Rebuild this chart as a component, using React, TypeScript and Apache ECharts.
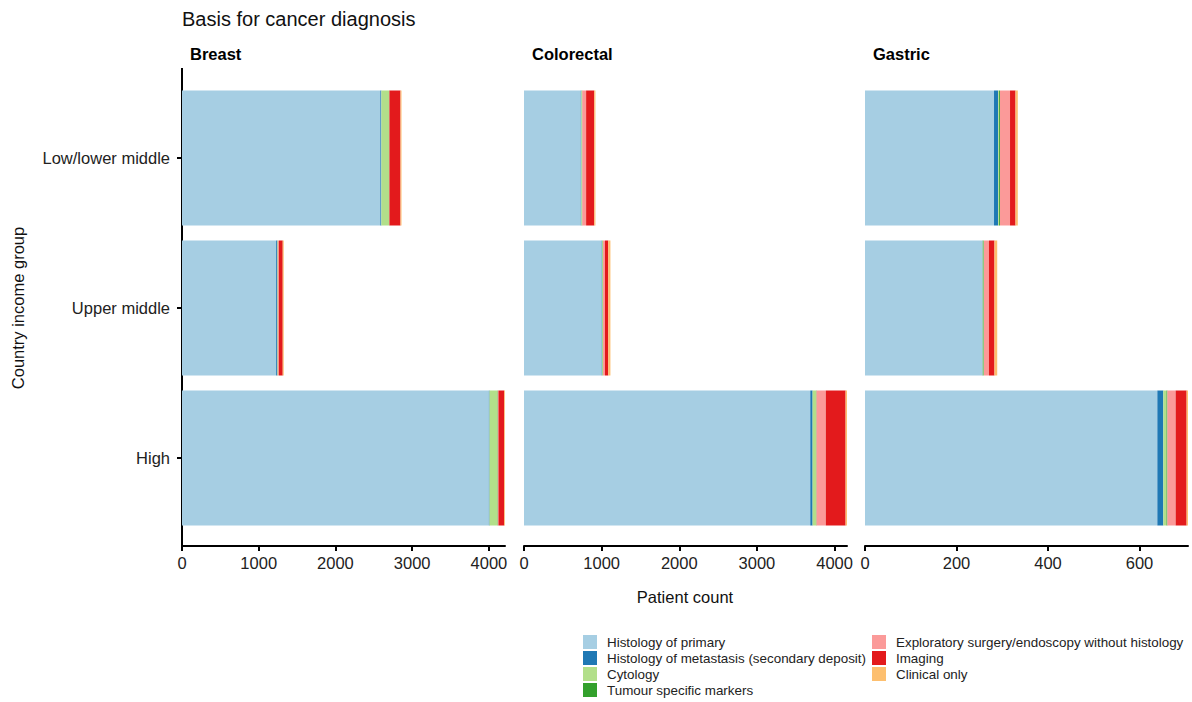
import React, { useEffect, useRef } from "react";
import * as echarts from "echarts";

const categories = ["Low/lower middle", "Upper middle", "High"];
const bases = [
  "Histology of primary",
  "Histology of metastasis (secondary deposit)",
  "Cytology",
  "Tumour specific markers",
  "Exploratory surgery/endoscopy without histology",
  "Imaging",
  "Clinical only",
];
const colors = ["#A6CEE3", "#1F78B4", "#B2DF8A", "#33A02C", "#FB9A99", "#E31A1C", "#FDBF6F"];

// rows follow `bases`, columns follow `categories`
const breastCounts = [
  [2585, 1227, 4000],
  [13, 13, 8],
  [100, 5, 105],
  [3, 3, 4],
  [3, 15, 8],
  [144, 50, 75],
  [13, 13, 10],
];
const colorectalCounts = [
  [731, 1001, 3687],
  [8, 4, 30],
  [8, 10, 45],
  [3, 3, 5],
  [50, 25, 120],
  [105, 42, 255],
  [15, 28, 18],
];
const gastricCounts = [
  [282, 256, 639],
  [9, 1, 13],
  [2, 2, 7],
  [2, 1, 2],
  [22, 11, 18],
  [12, 12, 24],
  [5, 6, 3],
];

const breastTicks = [0, 1000, 2000, 3000, 4000];
const colorectalTicks = [0, 1000, 2000, 3000, 4000];
const gastricTicks = [0, 200, 400, 600];

const panelNames = ["Breast", "Colorectal", "Gastric"];

const FONT = "Liberation Sans, Arial, Helvetica, sans-serif";

export default function App() {
  const ref = useRef<HTMLDivElement>(null);
  useEffect(() => {
    if (!ref.current) return;
    const chart = echarts.init(ref.current, undefined, { renderer: "svg" });
    const panels = [
      { counts: breastCounts, ticks: breastTicks, left: 182 },
      { counts: colorectalCounts, ticks: colorectalTicks, left: 524 },
      { counts: gastricCounts, ticks: gastricTicks, left: 865 },
    ];
    const top = 83;
    const height = 450;
    const width = 323;
    const grids = panels.map((p) => ({ left: p.left, top, width, height }));
    const xAxes = panels.map((p, i) => {
      const totals = categories.map((_, c) => p.counts.reduce((s, row) => s + row[c], 0));
      return {
        type: "value",
        gridIndex: i,
        min: 0,
        max: Math.max(...totals),
        offset: 13,
        splitLine: { show: false },
        axisLine: { show: true, lineStyle: { color: "#000", width: 2 } },
        axisTick: { show: true, length: 5, lineStyle: { color: "#000", width: 2 }, customValues: p.ticks },
        axisLabel: {
          customValues: p.ticks,
          formatter: (v: number) => String(v),
          color: "#222",
          fontSize: 16.5,
          fontFamily: FONT,
          margin: 8,
        },
      };
    });
    const yAxes = panels.map((_, i) => ({
      type: "category",
      gridIndex: i,
      data: categories,
      inverse: true,
      axisLine: { show: false },
      axisTick: {
        show: i === 0,
        alignWithLabel: true,
        length: 5,
        lineStyle: { color: "#000", width: 2 },
      },
      axisLabel: {
        show: i === 0,
        color: "#222",
        fontSize: 16.5,
        fontFamily: FONT,
        margin: 12,
      },
    }));
    const series: any[] = [];
    panels.forEach((p, i) => {
      bases.forEach((b, k) => {
        series.push({
          type: "bar",
          name: b,
          xAxisIndex: i,
          yAxisIndex: i,
          stack: "s" + i,
          barWidth: "90%",
          itemStyle: { color: colors[k] },
          data: p.counts[k],
        });
      });
    });
    const legendCommon = {
      orient: "vertical",
      top: 635,
      height: 66,
      padding: 0,
      icon: "rect",
      itemWidth: 14,
      itemHeight: 14,
      itemGap: 2,
      selectedMode: false,
      textStyle: { fontSize: 13.4, color: "#222", fontFamily: FONT, padding: [0, 0, 0, 5] },
    };
    chart.setOption({
      animation: false,
      color: colors,
      textStyle: { fontFamily: FONT },
      title: {
        text: "Basis for cancer diagnosis",
        left: 177,
        top: 4,
        textStyle: { fontSize: 20, fontWeight: "normal", color: "#111", fontFamily: FONT },
      },
      legend: [
        { ...legendCommon, left: 583, data: bases.slice(0, 4) },
        { ...legendCommon, left: 872, data: bases.slice(4) },
      ],
      grid: grids,
      xAxis: xAxes,
      yAxis: yAxes,
      series,
      graphic: [
        {
          type: "line",
          shape: { x1: 182, y1: 68, x2: 182, y2: 547 },
          style: { stroke: "#000", lineWidth: 2 },
        },
        ...panelNames.map((n, i) => ({
          type: "text",
          x: panels[i].left + 8,
          y: 54,
          style: {
            text: n,
            fontSize: 16.5,
            fontWeight: "bold",
            fill: "#000",
            fontFamily: FONT,
            textVerticalAlign: "middle",
          },
        })),
        {
          type: "text",
          x: 685,
          y: 597,
          style: {
            text: "Patient count",
            fontSize: 16.5,
            fill: "#111",
            fontFamily: FONT,
            textAlign: "center",
            textVerticalAlign: "middle",
          },
        },
        {
          type: "text",
          x: 18,
          y: 308,
          rotation: Math.PI / 2,
          style: {
            text: "Country income group",
            fontSize: 16.5,
            fill: "#111",
            fontFamily: FONT,
            textAlign: "center",
            textVerticalAlign: "middle",
          },
        },
      ],
    });
    return () => chart.dispose();
  }, []);
  return (
    <div
      ref={ref}
      style={{ position: "fixed", left: 0, top: 0, width: 1192, height: 702, background: "#fff" }}
    />
  );
}
